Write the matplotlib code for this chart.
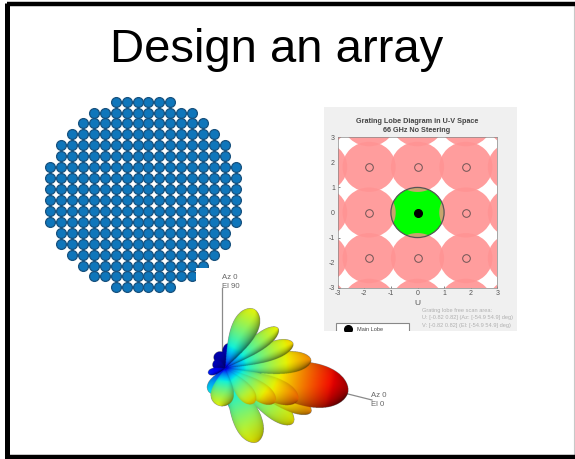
import numpy as np
import matplotlib
matplotlib.use("Agg")
import matplotlib.pyplot as plt
from matplotlib.patches import Ellipse, Rectangle

W_PX, H_PX = 575, 459

# element array: how many elements in each row, top to bottom
row_counts = [6, 10, 12, 14, 16, 16, 18, 18, 18, 18, 18, 18, 16, 16, 14, 12, 10, 6]

# grating lobes in U-V space
lobe_centres = [-3.64, -1.82, 0.0, 1.82, 3.64]
lobe_radius = 1.0
uv_ticks = [-3, -2, -1, 0, 1, 2, 3]
scan_text = ["Grating lobe free scan area:",
             "U: [-0.82 0.82] (Az: [-54.9 54.9] deg)",
             "V: [-0.82 0.82] (El: [-54.9 54.9] deg)"]

# 3d pattern lobes, back to front
pattern_origin = (225, 368)
lobe_tip_x = [210, 238, 217, 257, 293, 311, 348, 268, 255, 240, 232, 217, 213, 208,
              311, 293, 278, 254, 298, 275, 254, 221]
lobe_tip_y = [393, 415, 402, 442, 423, 412, 392, 370, 360, 352, 343, 352, 362, 373,
              360, 343, 328, 309, 400, 402, 403, 406]
lobe_width = [14, 14, 12, 28, 22, 20, 44, 8, 10, 12, 15, 12, 10, 7,
              22, 18, 16, 26, 24, 19, 17, 23]
lobe_level = [.36, .40, .3, .66, .66, .76, .97, .3, .2, .12, .06, .05, .06, .16,
              .76, .68, .65, .64, .80, .74, .68, .64]


def px_axes(fig, left, top, right, bottom, **kw):
    # axes placed by its pixel box, y measured from the top
    return fig.add_axes([left / W_PX, 1 - bottom / H_PX, (right - left) / W_PX, (bottom - top) / H_PX], **kw)


def pattern_image(x0, x1, y0, y1, scale=4):
    jet = matplotlib.colormaps["jet"]
    xs = np.arange(x0, x1, 1 / scale)
    ys = np.arange(y0, y1, 1 / scale)
    xx, yy = np.meshgrid(xs, ys)
    img = np.zeros(xx.shape + (4,))
    ox, oy = pattern_origin
    for tx, ty, wid, lev in zip(lobe_tip_x, lobe_tip_y, lobe_width, lobe_level):
        dx, dy = tx - ox, ty - oy
        ln = np.hypot(dx, dy)
        ax_x, ax_y = dx / ln, dy / ln
        u = ((xx - ox) * ax_x + (yy - oy) * ax_y) / ln
        v = -(xx - ox) * ax_y + (yy - oy) * ax_x
        ub = np.clip(u, 0, 1) ** 1.9
        half = wid / 2 * np.clip(1 - (2 * ub - 1) ** 2, 0, 1) ** 0.55
        inside = (u > 0) & (u < 1) & (np.abs(v) < half)
        # ellipsoid normal, light from upper left
        nv = np.where(half > 0, v / np.maximum(half, 1e-6), 0)
        nu = 2 * ub - 1
        nx = nu * ax_x * 0.6 - nv * ax_y
        ny = nu * ax_y * 0.6 + nv * ax_x
        dark = np.clip(nx * 0.6 + ny * 0.8, 0, 1) ** 1.5 * 0.42 + 0.12 * np.clip(nv, -1, 1) ** 4
        val = lev * np.clip(u, 0, 1) ** 0.5
        rgb = jet(val)[..., :3] * 0.95 * (1 - dark)[..., None]
        img[inside, :3] = rgb[inside]
        img[inside, 3] = 1
    return img


def main():
    plt.rcParams["font.family"] = ["Liberation Sans", "DejaVu Sans"]
    plt.rcParams["axes.unicode_minus"] = False
    fig = plt.figure(figsize=(W_PX / 100, H_PX / 100), dpi=100)
    fig.patch.set_facecolor("white")

    # slide frame, only a light line on the right
    bg = px_axes(fig, 0, 0, W_PX, H_PX, zorder=0)
    bg.set_xlim(0, W_PX)
    bg.set_ylim(H_PX, 0)
    bg.axis("off")
    bg.plot([574, 574], [4, 455], color="#c8c8c8", lw=0.8)
    bg.plot([6.5, 575, ], [4, 4], color="black", lw=3.2, solid_capstyle="butt")
    bg.plot([6.5, 6.5], [2.5, 459], color="black", lw=3.6, solid_capstyle="butt")
    bg.plot([4.5, 575], [457, 457], color="black", lw=3.2, solid_capstyle="butt")
    bg.text(277, 62, "Design an array", fontsize=34, color="black", ha="center", va="baseline")

    # element array, spacing is one unit
    arr = px_axes(fig, 40, 92, 246, 297, zorder=1)
    arr.set_xlim(-9.38, 9.38)
    arr.set_ylim(9.38, -9.38)
    arr.axis("off")
    xs, ys = [], []
    for i, n in enumerate(row_counts):
        for j in range(n):
            xs.append(j - (n - 1) / 2)
            ys.append(i - (len(row_counts) - 1) / 2)
    arr.scatter(xs, ys, s=50, facecolor="#0f76bb", edgecolor="#17517e", linewidth=0.9, clip_on=False)

    # 3d pattern picture, white box covers the array corner
    pat = px_axes(fig, 196, 268, 400, 452, zorder=2)
    pat.set_xticks([])
    pat.set_yticks([])
    for sp in pat.spines.values():
        sp.set_visible(False)
    pat.plot([222, 222], [288, 350], color="#8a8a8a", lw=0.9)
    pat.plot([340, 372], [392, 400], color="#8a8a8a", lw=0.9)
    pat.imshow(pattern_image(200, 360, 300, 452), extent=(200, 360, 452, 300), aspect="auto",
               interpolation="antialiased", interpolation_stage="rgba", zorder=3)
    pat.set_xlim(196, 400)
    pat.set_ylim(452, 268)
    pat.text(222, 277, "Az 0", fontsize=5.6, color="#666666", va="center")
    pat.text(222, 286, "El 90", fontsize=5.6, color="#666666", va="center")
    pat.text(371, 395, "Az 0", fontsize=5.6, color="#666666", va="center")
    pat.text(371, 404, "El 0", fontsize=5.6, color="#666666", va="center")

    # grey panel of the grating lobe figure
    panel = px_axes(fig, 324, 107, 517, 331, zorder=3)
    panel.set_xlim(324, 517)
    panel.set_ylim(331, 107)
    panel.set_facecolor("#f0f0f0")
    panel.set_xticks([])
    panel.set_yticks([])
    for sp in panel.spines.values():
        sp.set_visible(False)
    panel.text(417, 121.5, "Grating Lobe Diagram in U-V Space", fontsize=5.2, fontweight="bold",
               color="#444444", ha="center", va="center")
    panel.text(417, 131, "66 GHz No Steering", fontsize=5.2, fontweight="bold",
               color="#444444", ha="center", va="center")
    panel.text(417, 303.5, "U", fontsize=6, color="#555555", ha="center", va="center")
    panel.text(323.5, 212, "V", fontsize=4, color="#555555", rotation=90, ha="center", va="center", clip_on=True)
    for k, s in enumerate(scan_text):
        panel.text(421.5, 310.5 + k * 7.5, s, fontsize=4.1, color="#b0b0b0", va="center")
    panel.add_patch(Rectangle((336, 323), 73, 20, fc="white", ec="#888888", lw=0.8))
    panel.plot([348], [329], "o", color="black", ms=5.5)
    panel.text(357, 329.5, "Main Lobe", fontsize=4, color="#444444", va="center", clip_on=True)

    # U-V axes
    uv = px_axes(fig, 337.7, 137.3, 497.3, 287.7, zorder=4)
    uv.set_xlim(-3, 3)
    uv.set_ylim(-3, 3)
    uv.set_facecolor("white")
    cx, cy = np.meshgrid(lobe_centres, lobe_centres)
    for x, y in zip(cx.ravel(), cy.ravel()):
        if x == 0 and y == 0:
            continue
        uv.add_patch(Ellipse((x, y), 2 * lobe_radius, 2 * lobe_radius, fc="#ffa6a6", ec="none", zorder=2))
    # overlaps only a little darker than the discs
    for x, y in zip(cx.ravel(), cy.ravel()):
        if x == 0 and y == 0:
            continue
        uv.add_patch(Ellipse((x, y), 2 * lobe_radius, 2 * lobe_radius, fc="#ff0000", alpha=0.05, ec="none", zorder=2))
    # main circle is tan, the free scan part of it green
    uv.add_patch(Ellipse((0, 0), 2 * lobe_radius, 2 * lobe_radius, fc="#c9a46e", ec="none", zorder=3))
    theta = np.linspace(0, 2 * np.pi, 721)
    r = np.full(theta.shape, lobe_radius)
    for a in [0, 1, 2, 3]:
        c = 1.82
        # distance along the ray to the neighbour circle
        proj = c * np.cos(theta - a * np.pi / 2)
        disc = proj ** 2 - (c ** 2 - lobe_radius ** 2)
        hit = (proj > 0) & (disc > 0)
        r[hit] = np.minimum(r[hit], proj[hit] - np.sqrt(disc[hit]))
    uv.fill(r * np.cos(theta), r * np.sin(theta), color="#00ff00", lw=0, zorder=4)
    uv.add_patch(Ellipse((0, 0), 2 * lobe_radius, 2 * lobe_radius, fc="none", ec="#555555", lw=0.9, zorder=5))
    inner = [c for c in lobe_centres if abs(c) < 3]
    ox, oy = np.meshgrid(inner, inner)
    keep = (ox != 0) | (oy != 0)
    uv.plot(ox[keep], oy[keep], "o", mfc="none", mec="#6e5555", ms=5.5, mew=0.7, ls="none", zorder=6)
    uv.plot([0], [0], "o", color="black", ms=5.5, zorder=7)
    uv.set_xticks(uv_ticks)
    uv.set_yticks(uv_ticks)
    uv.tick_params(direction="in", length=1.5, width=0.5, labelsize=5, colors="#555555", pad=2)
    for sp in uv.spines.values():
        sp.set_linewidth(0.5)
        sp.set_color("#888888")

    fig.savefig("out.png", dpi=100)


if __name__ == "__main__":
    main()
